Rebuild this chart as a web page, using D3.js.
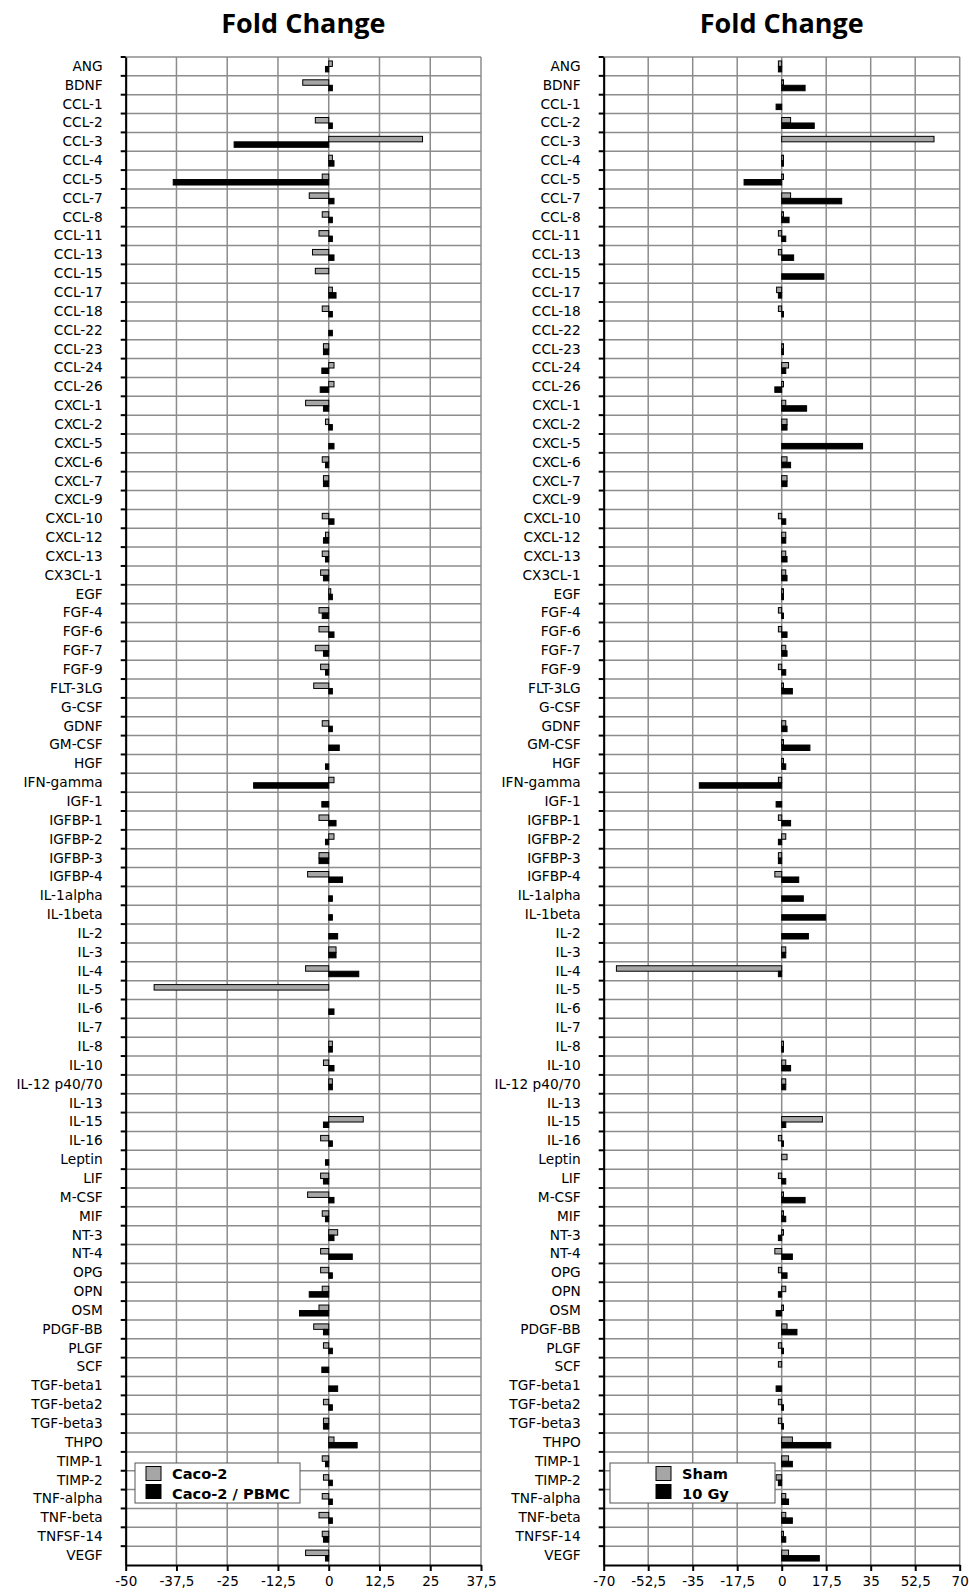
<!DOCTYPE html>
<html>
<head>
<meta charset="utf-8">
<script src="https://cdnjs.cloudflare.com/ajax/libs/d3/7.8.5/d3.min.js"></script>
<style>
body { margin: 0; background: #fff; }
svg text { font-family: "DejaVu Sans", sans-serif; }
</style>
</head>
<body>
<svg id="chart" width="969" height="1593"></svg>
<script>
// Categories (cytokines), top to bottom
var categories = ["ANG", "BDNF", "CCL-1", "CCL-2", "CCL-3", "CCL-4", "CCL-5", "CCL-7", "CCL-8", "CCL-11",
    "CCL-13", "CCL-15", "CCL-17", "CCL-18", "CCL-22", "CCL-23", "CCL-24", "CCL-26", "CXCL-1", "CXCL-2",
    "CXCL-5", "CXCL-6", "CXCL-7", "CXCL-9", "CXCL-10", "CXCL-12", "CXCL-13", "CX3CL-1", "EGF", "FGF-4",
    "FGF-6", "FGF-7", "FGF-9", "FLT-3LG", "G-CSF", "GDNF", "GM-CSF", "HGF", "IFN-gamma", "IGF-1",
    "IGFBP-1", "IGFBP-2", "IGFBP-3", "IGFBP-4", "IL-1alpha", "IL-1beta", "IL-2", "IL-3", "IL-4", "IL-5",
    "IL-6", "IL-7", "IL-8", "IL-10", "IL-12 p40/70", "IL-13", "IL-15", "IL-16", "Leptin", "LIF",
    "M-CSF", "MIF", "NT-3", "NT-4", "OPG", "OPN", "OSM", "PDGF-BB", "PLGF", "SCF",
    "TGF-beta1", "TGF-beta2", "TGF-beta3", "THPO", "TIMP-1", "TIMP-2", "TNF-alpha", "TNF-beta", "TNFSF-14", "VEGF"];

// Left panel: Caco-2 (grey) and Caco-2 / PBMC (black)
var caco2 = [0.9, -6.4, 0, -3.3, 23.1, 0.9, -1.6, -4.8, -1.6, -2.4,
    -4.0, -3.3, 0.9, -1.6, 0, -1.3, 1.3, 1.3, -5.7, -0.8,
    0, -1.6, -1.3, 0, -1.6, -0.8, -1.6, -2.0, 0.5, -2.4,
    -2.4, -3.3, -2.0, -3.7, 0, -1.6, 0, 0, 1.3, 0,
    -2.4, 1.3, -2.4, -5.2, 0, 0, 0, 1.8, -5.7, -43.0,
    0, 0, 0.9, -1.3, 0.9, 0, 8.5, -2.0, 0, -2.0,
    -5.2, -1.6, 2.2, -2.0, -2.0, -1.6, -2.4, -3.7, -1.3, 0,
    0, -1.3, -1.3, 1.3, -1.6, -1.3, -1.6, -2.4, -1.6, -5.7];
var cacoPbmc = [-0.8, 0.9, 0, 0.9, -23.3, 1.3, -38.3, 1.3, 0.9, 0.9,
    1.3, 0, 1.8, 0.9, 0.9, -1.3, -1.7, -2.1, -1.3, 0.9,
    1.3, -0.8, -1.3, 0, 1.3, -1.3, -0.8, -1.3, 0.9, -1.6,
    1.3, -1.3, -0.8, 0.9, 0, 0.9, 2.6, -0.8, -18.5, -1.7,
    1.8, -0.8, -2.4, 3.4, 0.9, 0.9, 2.2, 1.8, 7.4, 0,
    1.3, 0, 0.9, 1.3, 0.9, 0, -1.3, 0.9, -0.8, -1.3,
    1.3, -0.8, 1.3, 5.8, 0.9, -4.8, -7.2, -1.3, 0.9, -1.7,
    2.2, 0.9, -1.3, 7.0, -0.8, 0.9, 0.9, 0.9, -1.3, -0.8];

// Right panel: Sham (grey) and 10 Gy (black)
var sham = [-1.3, 0.7, 0, 3.5, 59.9, 0.7, 0.7, 3.5, 0.7, -1.3,
    -1.3, 0, -2.0, -1.3, 0, 0.7, 2.7, 0.7, 1.6, 2.1,
    0, 2.1, 2.1, 0, -1.3, 1.6, 1.6, 1.6, 0.7, -1.3,
    -1.3, 1.6, -1.3, 0.7, 0, 1.6, 0.7, 0.7, -1.3, 0,
    -1.3, 1.6, -1.3, -2.7, 0, 0, 0, 1.6, -65.0, 0,
    0, 0, 0.7, 1.6, 1.6, 0, 16.0, -1.3, 2.1, -1.3,
    0.7, 0.7, 0.7, -2.7, -1.3, 1.6, 0.7, 2.1, -1.3, -1.3,
    0, -1.3, -1.3, 4.2, 2.7, -2.2, 1.6, 1.6, 0.7, 2.7];
var gy10 = [-1.3, 9.2, -2.2, 12.8, 0, 0.7, -14.8, 23.6, 2.9, 1.6,
    4.7, 16.6, -1.3, 0.7, 0, 0.7, 1.6, -2.7, 9.8, 2.1,
    31.8, 3.5, 2.1, 0, 1.6, 1.6, 2.1, 2.1, 0.7, 0.7,
    2.1, 2.1, 1.6, 4.2, 0, 2.1, 11.1, 1.6, -32.4, -2.2,
    3.5, -1.3, -1.3, 6.7, 8.5, 17.3, 10.5, 1.6, -1.3, 0,
    0, 0, 0.7, 3.5, 1.6, 0, 1.6, 0.7, 0, 1.6,
    9.2, 1.6, -1.3, 4.2, 2.1, -1.3, -2.2, 6.0, 0.7, 0,
    -2.2, 0.7, 0.7, 19.3, 4.2, -1.3, 2.7, 4.2, 1.6, 14.8];

// Axis ticks
var leftTicks = [-50, -37.5, -25, -12.5, 0, 12.5, 25, 37.5];
var rightTicks = [-70, -52.5, -35, -17.5, 0, 17.5, 35, 52.5, 70];

var plotTop = 57,
    plotBottom = 1565,
    gridColour = "#8c8c8c",
    greyFill = "#a6a6a6";

var svg = d3.select("#chart");

// decimal comma like the original
var fmt = function(d) { return String(d).replace(".", ","); };

function drawPanel(cfg) {
    var x = d3.scaleLinear()
        .domain([cfg.ticks[0], cfg.ticks[cfg.ticks.length - 1]])
        .range([cfg.left, cfg.right]);

    var y = d3.scaleBand()
        .domain(categories)
        .range([plotTop, plotBottom]);

    var ySub = d3.scaleBand()
        .domain([0, 1])
        .range([0, y.bandwidth()])
        .paddingOuter(0.72);

    var g = svg.append("g");

    // Title
    g.append("text")
        .attr("x", (cfg.left + cfg.right) / 2)
        .attr("y", 33)
        .attr("text-anchor", "middle")
        .style("font-family", "'Open Sans', sans-serif")
        .style("font-weight", "bold")
        .style("font-size", "27px")
        .text("Fold Change");

    // Gridlines
    g.append("g").selectAll("line")
        .data(categories)
        .enter().append("line")
        .attr("x1", cfg.left).attr("x2", cfg.right)
        .attr("y1", function(d) { return y(d); })
        .attr("y2", function(d) { return y(d); })
        .attr("stroke", gridColour)
        .attr("stroke-width", 1.5);

    g.append("g").selectAll("line")
        .data(cfg.ticks)
        .enter().append("line")
        .attr("x1", function(d) { return x(d); })
        .attr("x2", function(d) { return x(d); })
        .attr("y1", plotTop).attr("y2", plotBottom)
        .attr("stroke", gridColour)
        .attr("stroke-width", 1.5);

    // Bars
    var series = [
        { values: cfg.first, fill: greyFill, idx: 0 },
        { values: cfg.second, fill: "#000", idx: 1 }
    ];

    series.forEach(function(s) {
        var rows = categories.map(function(c, i) { return { cat: c, v: s.values[i] }; })
            .filter(function(d) { return d.v !== 0; });

        g.append("g").selectAll("rect")
            .data(rows)
            .enter().append("rect")
            .attr("x", function(d) { return x(Math.min(0, d.v)); })
            .attr("width", function(d) { return Math.abs(x(d.v) - x(0)); })
            .attr("y", function(d) { return y(d.cat) + ySub(s.idx); })
            .attr("height", ySub.bandwidth())
            .attr("fill", s.fill)
            .attr("stroke", "#000")
            .attr("stroke-width", 1);
    });

    // Bottom axis
    var xAxis = g.append("g")
        .attr("transform", "translate(0," + plotBottom + ")")
        .call(d3.axisBottom(x).tickValues(cfg.ticks).tickFormat(fmt).tickSize(6).tickSizeOuter(0).tickPadding(5));
    xAxis.select(".domain").attr("stroke-width", 2);
    xAxis.selectAll(".tick line").attr("stroke-width", 2);
    xAxis.selectAll("text")
        .style("font-family", "'DejaVu Sans', sans-serif")
        .style("font-size", "13.5px")
        .attr("fill", "#000");

    // Left axis: labels at band centres
    var yAxis = g.append("g")
        .attr("transform", "translate(" + cfg.left + ",0)")
        .call(d3.axisLeft(y).tickSize(0).tickSizeOuter(0).tickPadding(23));
    yAxis.select(".domain").attr("stroke-width", 2);
    yAxis.selectAll("text")
        .style("font-family", "'DejaVu Sans', sans-serif")
        .style("font-size", "13.7px")
        .attr("fill", "#000");

    // tick marks on category boundaries
    g.append("g").selectAll("line")
        .data(categories)
        .enter().append("line")
        .attr("x1", cfg.left - 5).attr("x2", cfg.left)
        .attr("y1", function(d) { return y(d); })
        .attr("y2", function(d) { return y(d); })
        .attr("stroke", "#000")
        .attr("stroke-width", 2);

    // Legend
    var lg = g.append("g")
        .attr("transform", "translate(" + cfg.legendX + ",1463)");
    lg.append("rect")
        .attr("width", 165).attr("height", 40)
        .attr("fill", "#fff")
        .attr("stroke", "#555")
        .attr("stroke-width", 1);

    cfg.names.forEach(function(name, i) {
        lg.append("rect")
            .attr("x", cfg.swatchX)
            .attr("y", 3.5 + i * 18)
            .attr("width", 15).attr("height", 14)
            .attr("fill", i === 0 ? greyFill : "#000")
            .attr("stroke", "#000")
            .attr("stroke-width", 1);
        lg.append("text")
            .attr("x", cfg.swatchX + 26)
            .attr("y", 16 + i * 19.5)
            .style("font-family", "'DejaVu Sans', sans-serif")
            .style("font-weight", "bold")
            .style("font-size", "14.6px")
            .text(name);
    });
}

drawPanel({
    left: 125.7, right: 481,
    ticks: leftTicks,
    first: caco2, second: cacoPbmc,
    names: ["Caco-2", "Caco-2 / PBMC"],
    legendX: 135, swatchX: 11
});

drawPanel({
    left: 603.7, right: 959.7,
    ticks: rightTicks,
    first: sham, second: gy10,
    names: ["Sham", "10 Gy"],
    legendX: 610, swatchX: 46
});
</script>
</body>
</html>
